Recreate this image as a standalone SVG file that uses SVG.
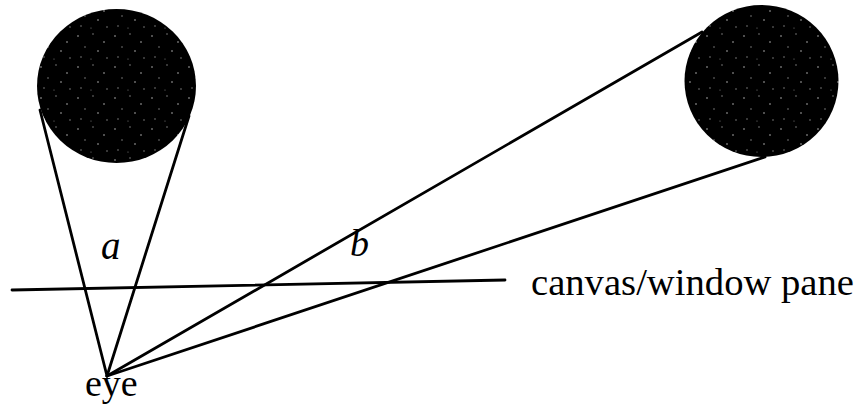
<svg xmlns="http://www.w3.org/2000/svg" width="859" height="408" viewBox="0 0 859 408">
<style>
.ln{stroke:#000;stroke-width:2.8;fill:none;stroke-linecap:round}
.txt{font-family:"Liberation Serif","Times New Roman",serif;fill:#000}
.it{font-style:italic}
</style>
<defs>
<pattern id="speck" width="37" height="31" patternUnits="userSpaceOnUse">
<rect width="37" height="31" fill="#000"/>
<circle cx="4" cy="5" r="0.8" fill="#fff" opacity="0.7"/>
<circle cx="19" cy="3" r="0.7" fill="#fff" opacity="0.6"/>
<circle cx="30" cy="11" r="0.8" fill="#fff" opacity="0.7"/>
<circle cx="11" cy="16" r="0.7" fill="#fff" opacity="0.6"/>
<circle cx="24" cy="20" r="0.8" fill="#fff" opacity="0.7"/>
<circle cx="7" cy="26" r="0.7" fill="#fff" opacity="0.6"/>
<circle cx="33" cy="27" r="0.7" fill="#fff" opacity="0.6"/>
<circle cx="17" cy="28" r="0.6" fill="#fff" opacity="0.5"/>
</pattern>
</defs>
<rect width="859" height="408" fill="#fff"/>
<g id="ball-a"><ellipse cx="116.5" cy="86" rx="79.5" ry="77" fill="url(#speck)"/></g>
<g id="ball-b"><ellipse cx="761.5" cy="81" rx="77" ry="76" fill="url(#speck)"/></g>
<g id="connectors">
<line class="ln" x1="40" y1="110" x2="107" y2="376"/>
<line class="ln" x1="189" y1="116" x2="107" y2="376"/>
<line class="ln" x1="702" y1="32" x2="107" y2="376"/>
<line class="ln" x1="765" y1="157" x2="107" y2="376"/>
</g>
<g id="canvas"><line class="ln" x1="12" y1="290" x2="505" y2="280"/>
<text class="txt" x="531" y="295" font-size="38" textLength="323" lengthAdjust="spacingAndGlyphs">canvas/window pane</text></g>
<g id="eye"><text class="txt" x="85" y="396" font-size="38">eye</text></g>
<g id="label-a"><text class="txt it" x="101" y="259" font-size="39">a</text></g>
<g id="label-b"><text class="txt it" x="350" y="256" font-size="38">b</text></g>
</svg>
